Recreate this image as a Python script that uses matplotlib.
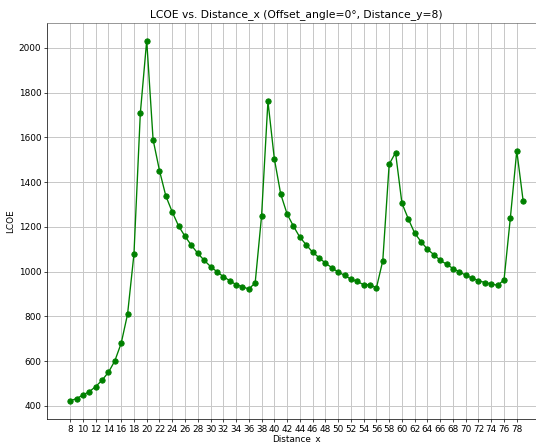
import matplotlib
matplotlib.use("Agg")
import matplotlib.pyplot as plt

distance_x = list(range(8, 80))
lcoe = [
    422, 433, 448, 464, 486, 515, 550, 601, 680, 810,
    1078, 1708, 2033, 1590, 1452, 1338, 1267, 1204, 1158, 1118,
    1082, 1051, 1023, 1000, 978, 960, 942, 933, 922, 950,
    1248, 1762, 1505, 1347, 1258, 1203, 1154, 1120, 1087, 1063,
    1038, 1018, 998, 984, 966, 957, 941, 942, 927, 1049,
    1480, 1532, 1306, 1236, 1172, 1134, 1100, 1076, 1051, 1033,
    1014, 999, 984, 971, 960, 951, 945, 939, 963, 1242,
    1540, 1316,
]
xtick_values = list(range(8, 80, 2))

DPI = 64.3
fig = plt.figure(figsize=(536 / DPI, 443 / DPI), dpi=DPI)
ax = fig.add_axes([0.0886, 0.0542, 0.9297, 0.895])

ax.plot(distance_x, lcoe, marker="o", color="green")
ax.set_xticks(xtick_values)
ax.grid(True, color="#c8c8c8", linewidth=1.1)
ax.spines["right"].set_visible(False)
ax.spines["top"].set_color("#707070")
ax.set_title("LCOE vs. Distance_x (Offset_angle=0°, Distance_y=8)")
ax.set_xlabel("Distance_x", labelpad=0)
ax.set_ylabel("LCOE")

fig.savefig("out.png", dpi=DPI)
